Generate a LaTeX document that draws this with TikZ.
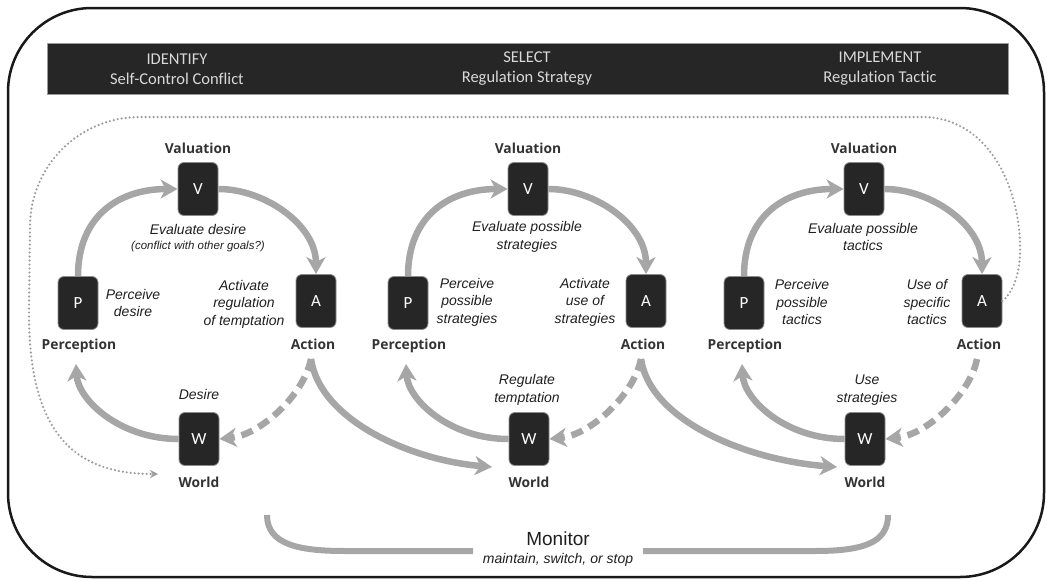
\documentclass[tikz,border=0pt]{standalone}
\usepackage{fontspec}
\setmainfont{Liberation Sans}
\newfontfamily\lblfont{Open Sans}
\newfontfamily\hdrfont{Carlito}[Ligatures=NoCommon]
\usetikzlibrary{arrows.meta}

\definecolor{boxfill}{HTML}{262626}
\definecolor{flowgray}{HTML}{A6A6A6}
\definecolor{dotgray}{HTML}{9C9C9C}
\definecolor{lbltext}{HTML}{333333}
\definecolor{notetext}{HTML}{1F1F1F}
\definecolor{bartext}{HTML}{D9D9D9}

\tikzset{
  blk/.style={draw=black!45, line width=0.8pt, fill=boxfill, rounded corners=6pt,
    minimum width=40pt, minimum height=53pt, inner sep=0pt, text=white,
    font=\hdrfont\fontsize{17}{17}\selectfont},
  lbl/.style={font=\lblfont\bfseries\fontsize{13.8}{14}\selectfont, text=lbltext, inner sep=0pt},
  note/.style={font=\itshape\fontsize{14}{17.5}\selectfont, text=notetext, align=center, inner sep=0pt},
  smallnote/.style={font=\itshape\fontsize{11.5}{14}\selectfont, text=notetext, inner sep=0pt},
  flow/.style={draw=flowgray, line width=6.5pt, -{Stealth[length=17pt,width=19pt,inset=5pt]}},
  dashflow/.style={flow, dash pattern=on 12pt off 7pt},
  loopline/.style={draw=dotgray, line width=2.4pt, line cap=round, dash pattern=on 0pt off 4pt,
    -{Stealth[length=8pt,width=8pt]}},
  bracket/.style={draw=flowgray, line width=6pt},
  bartitle/.style={font=\hdrfont\fontsize{16.5}{20}\selectfont, text=bartext, align=center, inner sep=0pt},
}

% One perception-valuation-action-world loop, centred on x = #2
\newcommand\pvawcycle[2]{%
  \begin{scope}[xshift=#2pt]
    \node[blk] (V#1) at (0,189) {V};
    \node[blk] (P#1) at (-120,303) {P};
    \node[blk] (A#1) at (118,301) {A};
    \node[blk] (W#1) at (1,439) {W};
    \node[lbl] (Vl#1) at (0,148) {Valuation};
    \node[lbl] (Pl#1) at (-119,346) {Perception};
    \node[lbl] (Al#1) at (115,344) {Action};
    \node[lbl] (Wl#1) at (1,482) {World};
    \coordinate (As#1) at (113,359);
    \coordinate (Pt#1) at (-122,364);
    \draw[flow] (P#1.north) .. controls (-120,215) and (-78,189) .. (V#1.west);
    \draw[flow] (V#1.east) .. controls (67,189) and (118,225) .. (A#1.north);
    \draw[flow] (W#1.west) .. controls (-78,439) and (-120,400) .. (Pt#1);
    \draw[dashflow] (As#1) .. controls (106,395) and (62,435) .. (W#1.east);
  \end{scope}}

\begin{document}
\begin{tikzpicture}[x=1pt,y=-1pt]
  \useasboundingbox (0,0) rectangle (1047,581);

  % frame
  \draw[line width=2.5pt, draw=black!90, rounded corners=84pt] (8,8) rectangle (1044,577);

  % header bar
  \draw[fill=boxfill, draw=black!40, line width=0.8pt] (47,43) rectangle (1008,94);
  \node[bartitle] (h1) at (177,69) {IDENTIFY\\Self-Control Conflict};
  \node[bartitle] (h2) at (527,69) {SELECT\\Regulation Strategy};
  \node[bartitle] (h3) at (880,69) {IMPLEMENT\\Regulation Tactic};

  % the three loops
  \pvawcycle{1}{198}
  \pvawcycle{2}{528}
  \pvawcycle{3}{864}

  % loop 1 texts
  \node[note] (e1) at (198,229) {Evaluate desire};
  \node[smallnote] (e1b) at (198,247) {(conflict with other goals?)};
  \node[note] (p1) at (133,303) {Perceive\\desire};
  \node[note] (a1) at (244,304) {Activate\\regulation\\of temptation};
  \node[note] (w1) at (199,394) {Desire};

  % loop 2 texts
  \node[note] (e2) at (527,237) {Evaluate possible\\strategies};
  \node[note] (p2) at (467,302) {Perceive\\possible\\strategies};
  \node[note] (a2) at (585,302) {Activate\\use of\\strategies};
  \node[note] (w2) at (527,390) {Regulate\\temptation};

  % loop 3 texts
  \node[note] (e3) at (863,237) {Evaluate possible\\tactics};
  \node[note] (p3) at (802,302) {Perceive\\possible\\tactics};
  \node[note] (a3) at (927,302) {Use of\\specific\\tactics};
  \node[note] (w3) at (867,390) {Use\\strategies};

  % hand-over from one loop's action to the next loop's world
  \coordinate (Wt2) at (492,467);
  \coordinate (Wt3) at (837,467);
  \draw[flow] (As1) .. controls (320,420) and (410,460) .. (Wt2);
  \draw[flow] (As2) .. controls (650,420) and (745,460) .. (Wt3);

  % dotted return path from the last action to the first world
  \coordinate (Lend) at (158,474);
  \draw[loopline] (A3.east) .. controls (1010,295) and (1019,280) .. (1020,255)
    .. controls (1022,190) and (990,120) .. (926,117) -- (140,117)
    .. controls (79,117) and (30,166) .. (30,227) -- (29,310)
    .. controls (28,440) and (80,474) .. (Lend);

  % monitor bracket
  \node[font=\fontsize{19}{19}\selectfont, text=notetext, inner sep=0pt] (mon) at (558,539) {Monitor};
  \node[note] (mon2) at (558,560) {maintain, switch, or stop};
  \coordinate (bl) at (267,515);
  \coordinate (br) at (888,515);
  \draw[bracket] (bl) .. controls (267,545) and (300,551) .. (345,551) -- (473,551);
  \draw[bracket] (643,551) -- (815,551) .. controls (865,551) and (888,542) .. (br);
\end{tikzpicture}
\end{document}
